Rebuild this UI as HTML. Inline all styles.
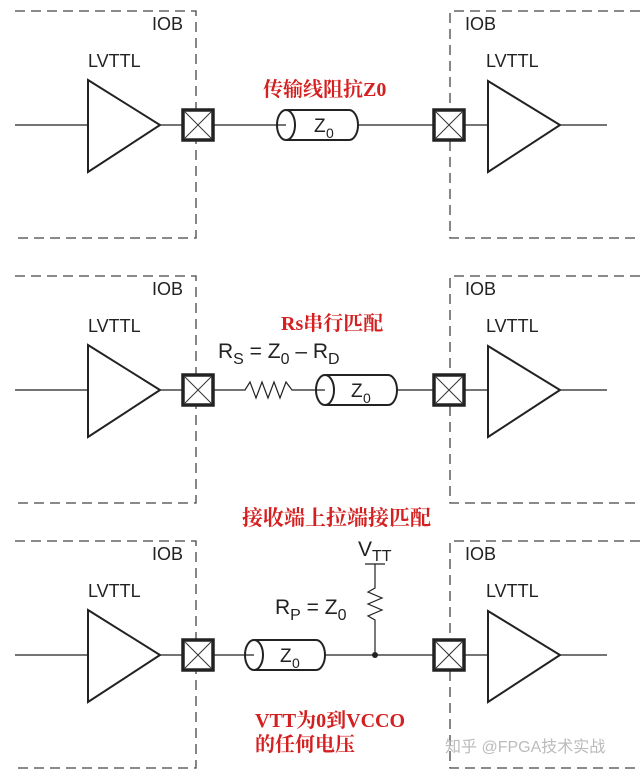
<!DOCTYPE html>
<html><head><meta charset="utf-8"><style>
body{margin:0;background:#fff;}
svg{display:block;}
text{font-family:"Liberation Sans",sans-serif;fill:#222;}
.r{font-family:"Liberation Serif","Noto Serif CJK SC",serif;fill:#d42020;font-weight:bold;}
</style></head><body>
<svg width="640" height="775" viewBox="0 0 640 775" xmlns="http://www.w3.org/2000/svg">
<defs>
<g id="frame" fill="none" stroke="#444" stroke-width="1.3">
  <path d="M15 11 H196 V238 H15" stroke-dasharray="10 6"/>
  <path d="M640 11 H450 V238 H640" stroke-dasharray="10 6"/>
  <polygon points="88,80 160,125 88,172" stroke="#222" stroke-width="2"/>
  <polygon points="488,81 560,125 488,172" stroke="#222" stroke-width="2"/>
  <rect x="183" y="110" width="30" height="30" stroke="#222" stroke-width="3.5" fill="#fff"/>
  <path d="M185 112 L211 138 M211 112 L185 138" stroke="#333" stroke-width="1"/>
  <rect x="434" y="110" width="30" height="30" stroke="#222" stroke-width="3.5" fill="#fff"/>
  <path d="M436 112 L462 138 M462 112 L436 138" stroke="#333" stroke-width="1"/>
  <path d="M15 125 H88 M160 125 H183 M464 125 H488 M560 125 H607" stroke="#222" stroke-width="1.2"/>
</g>
<g id="labels">
  <text x="152" y="30" font-size="18">IOB</text>
  <text x="88" y="67" font-size="18">LVTTL</text>
  <text x="465" y="30" font-size="18">IOB</text>
  <text x="486" y="67" font-size="18">LVTTL</text>
</g>
</defs>

<!-- Panel 1 -->
<use href="#frame"/><use href="#labels"/>
<path d="M213 125 H286 M358 125 H434" stroke="#222" stroke-width="1.2"/>
<path d="M286 110 H349 A9 15 0 0 1 349 140 H286" fill="none" stroke="#222" stroke-width="2"/>
<ellipse cx="286" cy="125" rx="9" ry="15" fill="none" stroke="#222" stroke-width="2"/>
<text x="314" y="132" font-size="19">Z</text><text x="326" y="138" font-size="14">0</text>
<text class="r" x="263" y="96" font-size="20">传输线阻抗Z0</text>

<!-- Panel 2 -->
<g transform="translate(0,265)"><use href="#frame"/><use href="#labels"/></g>
<path d="M213 390 H245 L250 382 L256 398 L262 382 L268 398 L274 382 L280 398 L286 382 L292 390 H325 M397 390 H434" fill="none" stroke="#222" stroke-width="1.2"/>
<path d="M325 375 H388 A9 15 0 0 1 388 405 H325" fill="none" stroke="#222" stroke-width="2"/>
<ellipse cx="325" cy="390" rx="9" ry="15" fill="none" stroke="#222" stroke-width="2"/>
<text x="351" y="397" font-size="19">Z</text><text x="363" y="403" font-size="14">0</text>
<text x="218" y="358" font-size="21">R<tspan font-size="16" dy="6">S</tspan><tspan dy="-6"> = Z</tspan><tspan font-size="16" dy="6">0</tspan><tspan dy="-6"> – R</tspan><tspan font-size="16" dy="6">D</tspan></text>
<text class="r" x="281" y="330" font-size="20">Rs串行匹配</text>

<!-- Panel 3 -->
<g transform="translate(0,530)"><use href="#frame"/><use href="#labels"/></g>
<path d="M213 655 H254 M325 655 H434" stroke="#222" stroke-width="1.2"/>
<path d="M254 640 H316 A9 15 0 0 1 316 670 H254" fill="none" stroke="#222" stroke-width="2"/>
<ellipse cx="254" cy="655" rx="9" ry="15" fill="none" stroke="#222" stroke-width="2"/>
<text x="280" y="662" font-size="19">Z</text><text x="292" y="668" font-size="14">0</text>
<circle cx="375" cy="655" r="3" fill="#222"/>
<path d="M365 564 H385 M375 564 V588 L368 592 L382 598 L368 604 L382 610 L368 616 L375 620 V655" fill="none" stroke="#222" stroke-width="1.2"/>
<text x="358" y="556" font-size="21">V<tspan font-size="16" dy="5">TT</tspan></text>
<text x="275" y="614" font-size="21">R<tspan font-size="16" dy="6">P</tspan><tspan dy="-6"> = Z</tspan><tspan font-size="16" dy="6">0</tspan></text>
<text class="r" x="242" y="525" font-size="21">接收端上拉端接匹配</text>
<text class="r" x="255" y="727" font-size="20">VTT为0到VCCO</text>
<text class="r" x="255" y="751" font-size="20">的任何电压</text>
<text x="445" y="752" font-size="16" style="fill:#bbb;font-family:'Liberation Sans','Noto Sans CJK SC',sans-serif">知乎 @FPGA技术实战</text>
</svg>
</body></html>
